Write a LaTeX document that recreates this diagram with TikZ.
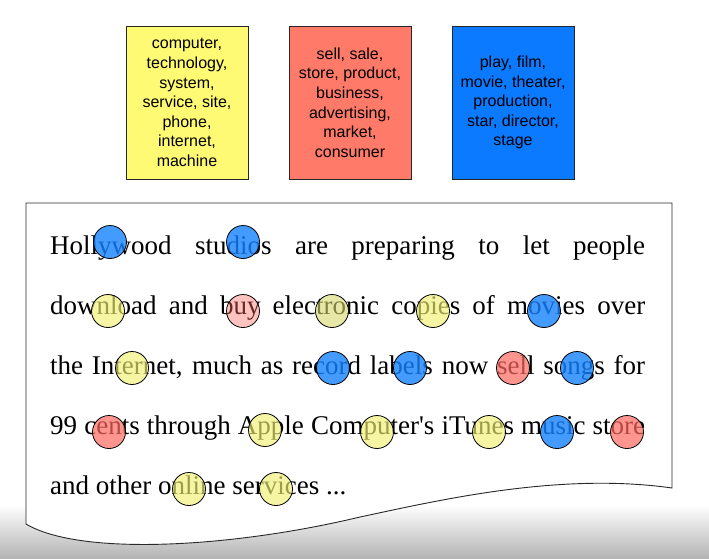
\documentclass[tikz,border=0pt]{standalone}
\usepackage{fontspec}
\setmainfont{Liberation Serif}[Ligatures=TeXOff]
\newfontfamily\boxfont{Liberation Sans}
\definecolor{yboxc}{RGB}{255,250,115}
\definecolor{rboxc}{RGB}{255,122,104}
\definecolor{bboxc}{RGB}{12,122,255}
\definecolor{ycirc}{RGB}{240,240,115}
\definecolor{rcirc}{RGB}{255,105,95}
\definecolor{bcirc}{RGB}{20,130,255}
\definecolor{docline}{RGB}{40,40,40}
\tikzset{
  topicbox/.style={draw=black!85, line width=0.8pt, minimum width=122pt, minimum height=153pt,
    align=center, inner sep=0pt, font=\boxfont\fontsize{16}{19.6}\selectfont},
  wordline/.style={anchor=base west, inner sep=0pt, font=\fontsize{27}{30}\selectfont},
  dot/.style={circle, draw=black, line width=0.8pt, minimum size=33pt, inner sep=0pt},
  ydot/.style={dot, fill=ycirc, fill opacity=0.65},
  rdot/.style={dot, fill=rcirc, fill opacity=0.7},
  bdot/.style={dot, fill=bcirc, fill opacity=0.8},
  pdot/.style={dot, fill=rcirc, fill opacity=0.4},
  gdot/.style={dot, fill={rgb,255:red,215;green,215;blue,110}, fill opacity=0.6},
}
\begin{document}
\begin{tikzpicture}[x=1pt,y=-1pt]
\useasboundingbox (0,0) rectangle (709,558);
% bottom grey gradient
\shade[top color=white, bottom color={rgb,255:red,180;green,180;blue,180}] (0,505) rectangle (709,558);
% topic boxes
\node[topicbox, fill=yboxc] (tyellow) at (187,102.5) {computer,\\technology,\\system,\\service, site,\\phone,\\internet,\\machine};
\node[topicbox, fill=rboxc] (tred) at (350,102.5) {sell, sale,\\store, product,\\business,\\advertising,\\market,\\consumer};
\node[topicbox, fill=bboxc] (tblue) at (513,102.5) {play, film,\\movie, theater,\\production,\\star, director,\\stage};
% document shape
\draw[docline, line width=0.9pt, fill=white] (26,524) -- (26,203) -- (672,203) -- (672,488)
  .. controls (560,472) and (440,500) .. (360,517)
  .. controls (230,548) and (80,556) .. (26,524) -- cycle;
% text lines
\node[wordline] (l1) at (50,254) {\makebox[595pt][s]{Hollywood studios are preparing to let people}};
\node[wordline] (l2) at (50,314) {\makebox[595pt][s]{download and buy electronic copies of movies over}};
\node[wordline] (l3) at (50,374) {\makebox[595pt][s]{the Internet, much as record labels now sell songs for}};
\node[wordline] (l4) at (50,434) {\makebox[595pt][s]{99 cents through Apple Computer's iTunes music store}};
\node[wordline] (l5) at (50,494) {and other online services ...};
% topic assignment dots
\node[bdot] (d1) at (110,242) {};
\node[bdot] (d2) at (243,242) {};
\node[ydot] (d3) at (108,311) {};
\node[pdot] (d4) at (243,311) {};
\node[gdot] (d5) at (332,311) {};
\node[ydot] (d6) at (433,311) {};
\node[bdot] (d7) at (544,311) {};
\node[ydot] (d8) at (132,368) {};
\node[bdot] (d9) at (333,368) {};
\node[bdot] (d10) at (410,368) {};
\node[rdot] (d11) at (513,368) {};
\node[bdot] (d12) at (577,368) {};
\node[rdot] (d13) at (109,432) {};
\node[ydot] (d14) at (265,430) {};
\node[ydot] (d15) at (377,432) {};
\node[ydot] (d16) at (489,432) {};
\node[bdot] (d17) at (557,432) {};
\node[rdot] (d18) at (627,432) {};
\node[ydot] (d19) at (189,489) {};
\node[ydot] (d20) at (276,489) {};
\end{tikzpicture}
\end{document}
